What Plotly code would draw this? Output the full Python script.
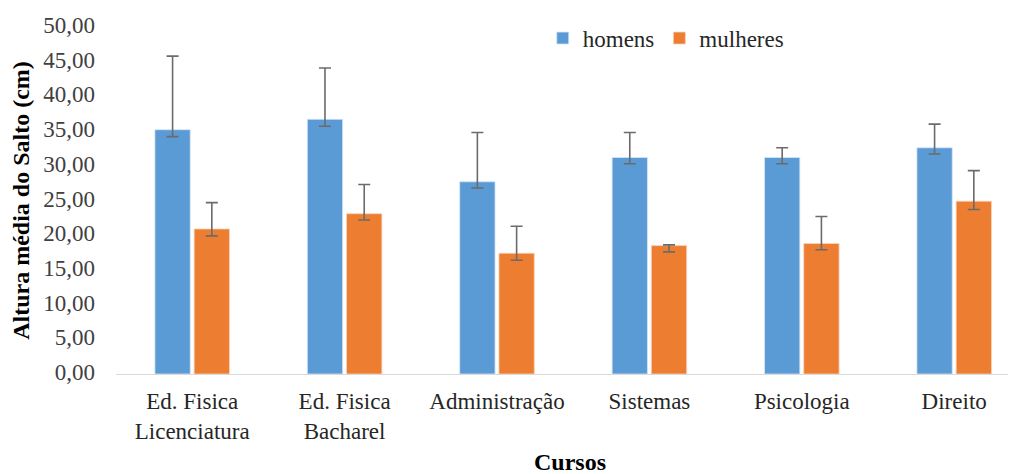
import plotly.graph_objects as go

categories = ["Ed. Fisica<br>Licenciatura", "Ed. Fisica<br>Bacharel", "Administração",
              "Sistemas", "Psicologia", "Direito"]
homens = [35.2, 36.7, 27.7, 31.2, 31.2, 32.6]
homens_err_plus = [10.6, 7.4, 7.1, 3.6, 1.4, 3.4]
homens_err_minus = [1.0, 1.0, 0.9, 0.9, 0.9, 0.9]
mulheres = [20.9, 23.1, 17.4, 18.5, 18.8, 24.9]
mulheres_err_plus = [3.8, 4.2, 3.9, 0.1, 3.9, 4.4]
mulheres_err_minus = [1.0, 0.9, 1.0, 0.9, 0.9, 1.2]
y_ticks = [0, 5, 10, 15, 20, 25, 30, 35, 40, 45, 50]

err_style = dict(color="#6b6b6b", thickness=1.6, width=6)

fig = go.Figure()
fig.add_trace(go.Bar(
    name="homens", x=categories, y=homens, marker_color="#5B9BD5",
    marker_line=dict(color="#d6e6f5", width=0.8),
    error_y=dict(type="data", symmetric=False, array=homens_err_plus,
                 arrayminus=homens_err_minus, **err_style)))
fig.add_trace(go.Bar(
    name="mulheres", x=categories, y=mulheres, marker_color="#ED7D31",
    marker_line=dict(color="#f8d3bb", width=0.8),
    error_y=dict(type="data", symmetric=False, array=mulheres_err_plus,
                 arrayminus=mulheres_err_minus, **err_style)))

font_family = "Liberation Serif, Times New Roman, serif"
fig.update_layout(
    width=1016, height=474,
    margin=dict(l=108, r=0, t=19, b=108),
    paper_bgcolor="white", plot_bgcolor="white",
    separators=",.",
    barmode="group", bargap=0.485, bargroupgap=0.1,
    font=dict(family=font_family, size=23, color="#404040"),
    showlegend=True,
    legend=dict(orientation="h", x=0.470, y=0.968, xanchor="left", yanchor="middle",
                font=dict(family=font_family, size=23, color="#262626"),
                bgcolor="rgba(0,0,0,0)", itemwidth=30),
    xaxis=dict(range=[-0.5, 5.458], showgrid=False, showline=True,
               linecolor="#d9d9d9", linewidth=1, ticks="",
               ticklabelstandoff=6,
               tickfont=dict(family=font_family, size=23, color="#262626"),
               title=dict(text="<b>Cursos</b>", standoff=10,
                          font=dict(family=font_family, size=24, color="#000000"))),
    yaxis=dict(range=[0, 50], tickvals=y_ticks, tickformat=".2f", showgrid=False,
               showline=False, zeroline=False, ticks="",
               ticklabelstandoff=20, ticklabelshift=-2,
               tickfont=dict(family=font_family, size=23, color="#404040"),
               title=dict(text="<b>Altura média do Salto (cm)</b>", standoff=6,
                          font=dict(family=font_family, size=24, color="#000000"))),
)

fig.write_html("out.html")
